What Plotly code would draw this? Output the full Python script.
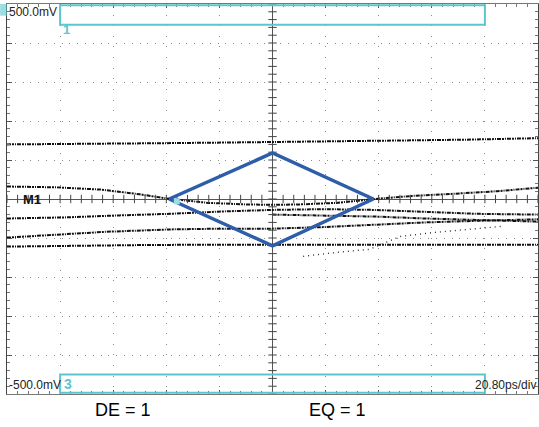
import numpy as np
import plotly.graph_objects as go

# ---- axis scale (from the screen labels) ----
x_per_div = 20.80          # ps/div
y_top, y_bot = 500.0, -500.0   # mV
x_min, x_max = -104.0, 104.0

# ---- eye traces (time in ps, voltage in mV) ----
top_t = [-104, -75, -45, -15, 15, 45, 75, 104]
top_v = [140, 141, 143, 145, 147, 149, 152, 156]

upper_t = [-104, -85, -67, -52, -40, -25, -10, 0, 10, 25, 40, 55, 70, 88, 104]
upper_v = [32, 30, 24, 12, 0, -10, -14, -15, -14, -10, 0, 8, 13, 20, 29]

mid_t = [-104, -80, -60, -40, -20, 0, 20, 40, 60, 80, 104]
mid_v = [-50, -47, -42, -38, -32, -28, -26, -28, -33, -38, -40]

low_t = [-104, -85, -65, -40, -20, 0, 20, 40, 60, 80, 104]
low_v = [-99, -92, -84, -78, -76, -76, -72, -66, -60, -56, -52]

right_t = [0, 20, 40, 60, 80, 104]
right_v = [-40, -42, -45, -50, -54, -58]

bottom_t = [-104, -80, -50, -20, 10, 40, 70, 104]
bottom_v = [-122, -120, -118, -117, -117, -118, -118, -117]

sparse_t = [12, 25, 38, 50, 63, 76, 90]
sparse_v = [-147, -137, -129, -96, -86, -78, -70]

# ---- eye mask (diamond) ----
mask_t = [-40.5, 0, 39.5, 0, -40.5]
mask_v = [0, 118, 0, -120, 0]

trace_color = "#111111"
dash_noise = "4px,1px,2px,1px,1px,1px"

fig = go.Figure()

for t, v in [(top_t, top_v), (upper_t, upper_v), (mid_t, mid_v),
             (low_t, low_v), (right_t, right_v), (bottom_t, bottom_v)]:
    fig.add_trace(go.Scatter(x=t, y=v, mode="lines",
                             line=dict(color=trace_color, width=2, dash=dash_noise),
                             hoverinfo="skip", showlegend=False))

fig.add_trace(go.Scatter(x=sparse_t, y=sparse_v, mode="lines",
                         line=dict(color="#333333", width=1.4, dash="1px,4px"),
                         hoverinfo="skip", showlegend=False))

# centre cross tick marks
minor_x = np.arange(x_min, x_max + 0.01, x_per_div / 5)
minor_y = np.arange(y_bot, y_top + 0.01, 20.0)
fig.add_trace(go.Scatter(x=minor_x, y=[0] * len(minor_x), mode="markers",
                         marker=dict(symbol="line-ns", size=6,
                                     line=dict(color="#444444", width=1)),
                         hoverinfo="skip", showlegend=False))
fig.add_trace(go.Scatter(x=[0] * len(minor_y), y=minor_y, mode="markers",
                         marker=dict(symbol="line-ew", size=6,
                                     line=dict(color="#444444", width=1)),
                         hoverinfo="skip", showlegend=False))

# mask
fig.add_trace(go.Scatter(x=mask_t, y=mask_v, mode="lines",
                         line=dict(color="#2E5DAA", width=3.5),
                         hoverinfo="skip", showlegend=False))
# small cyan marker near left crossing
fig.add_trace(go.Scatter(x=[-37.5], y=[-6], mode="markers",
                         marker=dict(symbol="square", size=6, color="#9ADDE4"),
                         hoverinfo="skip", showlegend=False))

cyan = "#5CC6CE"
# channel boxes
fig.add_shape(type="rect", x0=-83.2, x1=83.2, y0=447, y1=497,
              line=dict(color=cyan, width=2), layer="above")
fig.add_shape(type="rect", x0=-83.2, x1=83.2, y0=-497, y1=-450,
              line=dict(color=cyan, width=2), layer="above")
fig.add_shape(type="rect", xref="paper", yref="paper", x0=-0.013, x1=0,
              y0=0.97, y1=1.0, fillcolor=cyan, line=dict(width=0), opacity=0.6)

ann_font = dict(family="Liberation Sans, Arial", size=12, color="#222222")
fig.add_annotation(x=-104, y=480, text="500.0mV", xanchor="left", yanchor="middle",
                   showarrow=False, font=ann_font)
fig.add_annotation(x=-104, y=-476, text="-500.0mV", xanchor="left", yanchor="middle",
                   showarrow=False, font=ann_font)
fig.add_annotation(x=104, y=-476, text="20.80ps/div", xanchor="right", yanchor="middle",
                   showarrow=False, font=ann_font)
fig.add_annotation(x=-98.5, y=0, text="<b>M1</b>", xanchor="left", yanchor="middle",
                   showarrow=False, font=dict(family="Liberation Sans, Arial", size=13, color="#111"))
fig.add_annotation(x=-83, y=434, text="<b>1</b>", xanchor="left", yanchor="middle",
                   showarrow=False, font=dict(family="Liberation Sans, Arial", size=13, color=cyan))
fig.add_annotation(x=-82.5, y=-474, text="<b>3</b>", xanchor="left", yanchor="middle",
                   showarrow=False, font=dict(family="Liberation Sans, Arial", size=14, color=cyan))
fig.add_annotation(x=-58.6, xref="x", y=-0.042, yref="paper", text="DE = 1",
                   showarrow=False, xanchor="center", yanchor="middle",
                   font=dict(family="Liberation Sans, Arial", size=18, color="#000"))
fig.add_annotation(x=25.3, xref="x", y=-0.042, yref="paper", text="EQ = 1",
                   showarrow=False, xanchor="center", yanchor="middle",
                   font=dict(family="Liberation Sans, Arial", size=18, color="#000"))

fig.update_layout(
    width=539, height=427,
    margin=dict(l=7, r=1, t=4, b=33),
    paper_bgcolor="white", plot_bgcolor="white",
    showlegend=False,
    xaxis=dict(range=[x_min, x_max], dtick=x_per_div, tick0=0,
               showgrid=True, gridcolor="#8a8a8a", gridwidth=1, griddash="1px,9.62px",
               zeroline=True, zerolinecolor="#555555", zerolinewidth=1,
               showline=True, linecolor="#777777", mirror="ticks",
               ticks="inside", ticklen=4, tickcolor="#555555",
               minor=dict(dtick=x_per_div / 5, ticks="inside", ticklen=3, tickcolor="#777777", showgrid=False),
               showticklabels=False, fixedrange=True),
    yaxis=dict(range=[y_bot, y_top], dtick=100, tick0=0,
               showgrid=True, gridcolor="#8a8a8a", gridwidth=1, griddash="1px,6.8px",
               zeroline=True, zerolinecolor="#555555", zerolinewidth=1,
               showline=True, linecolor="#444444", mirror="ticks",
               ticks="inside", ticklen=5, tickcolor="#555555",
               minor=dict(dtick=20, ticks="inside", ticklen=3, tickcolor="#777777", showgrid=False),
               showticklabels=False, fixedrange=True),
)

fig.write_html("out.html", post_script="document.body.style.margin='0px';",
               config={"displayModeBar": False})
